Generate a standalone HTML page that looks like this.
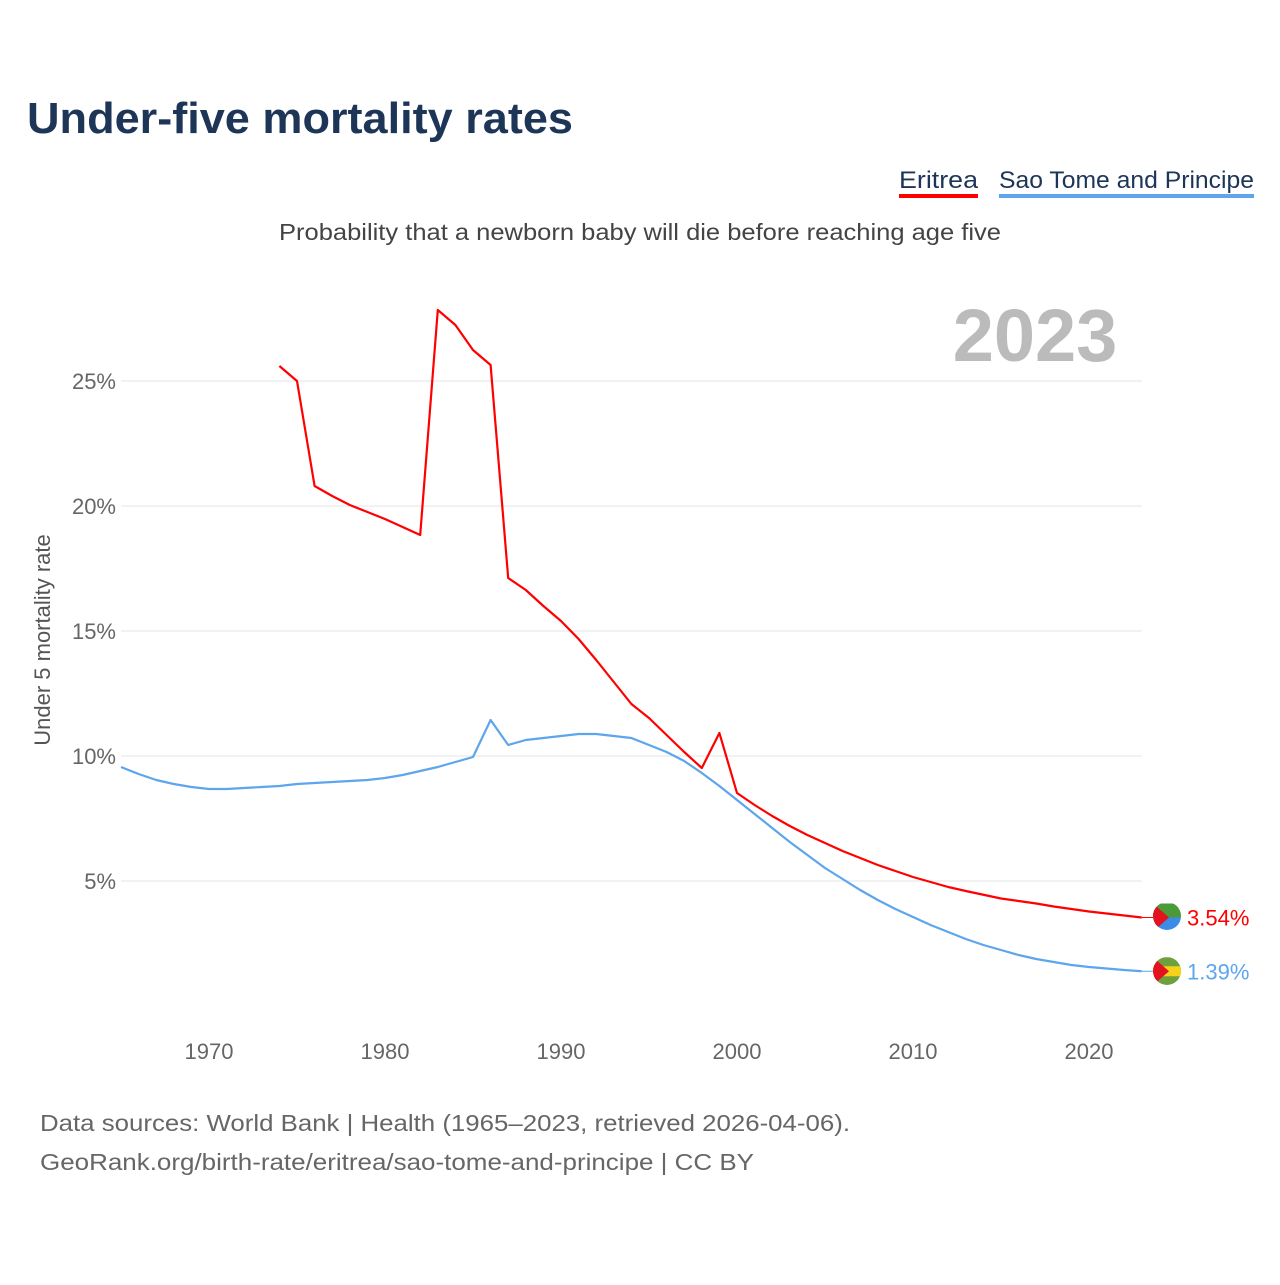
<!DOCTYPE html>
<html><head><meta charset="utf-8"><style>
body{margin:0;background:#fff;font-family:"Liberation Sans",sans-serif}
svg text{font-family:"Liberation Sans",sans-serif}
</style></head><body>
<svg id="chart" width="1280" height="1280" xmlns="http://www.w3.org/2000/svg">
<defs><clipPath id="c1"><circle cx="1167" cy="916" r="14"/></clipPath><clipPath id="c2"><circle cx="1167" cy="971" r="14"/></clipPath></defs>
<text x="27" y="133" font-size="44" font-weight="bold" fill="#1d3557" textLength="546" lengthAdjust="spacingAndGlyphs">Under-five mortality rates</text>
<g><text x="899" y="188" font-size="24" fill="#1d3557" textLength="79" lengthAdjust="spacingAndGlyphs">Eritrea</text><rect x="899" y="194" width="79" height="4" fill="#f00"/></g>
<g><text x="999" y="188" font-size="24" fill="#1d3557" textLength="255" lengthAdjust="spacingAndGlyphs">Sao Tome and Principe</text><rect x="999" y="194" width="255" height="4" fill="#5da5ec"/></g>
<text x="279" y="240" font-size="23" fill="#444" textLength="722" lengthAdjust="spacingAndGlyphs">Probability that a newborn baby will die before reaching age five</text>
<text x="1035" y="361" font-size="74" font-weight="bold" fill="#bbb" text-anchor="middle">2023</text>
<text transform="translate(50,640) rotate(-90)" font-size="22" fill="#555" text-anchor="middle">Under 5 mortality rate</text>
<g id="grid"></g><g id="xt"></g><g id="series"></g>
<text x="40" y="1131" font-size="23" fill="#666" textLength="810" lengthAdjust="spacingAndGlyphs">Data sources: World Bank | Health (1965–2023, retrieved 2026-04-06).</text>
<text x="40" y="1170" font-size="23" fill="#666" textLength="714" lengthAdjust="spacingAndGlyphs">GeoRank.org/birth-rate/eritrea/sao-tome-and-principe | CC BY</text>
</svg>
<script>
const yTicks=[5,10,15,20,25];
const xTicks=[1970,1980,1990,2000,2010,2020];
const eriYears=[];for(let y=1974;y<=2023;y++)eriYears.push(y);
const eriValues=[25.6,25.0,20.8,20.4,20.04,19.76,19.48,19.16,18.84,27.84,27.24,26.24,25.64,17.12,16.64,16.0,15.4,14.68,13.84,12.96,12.08,11.52,10.84,10.16,9.52,10.92,8.52,8.04,7.6,7.2,6.84,6.52,6.2,5.92,5.64,5.4,5.16,4.96,4.76,4.6,4.45,4.3,4.2,4.1,3.98,3.88,3.78,3.7,3.62,3.54];
const stpYears=[];for(let y=1965;y<=2023;y++)stpYears.push(y);
const stpValues=[9.56,9.28,9.04,8.88,8.76,8.68,8.68,8.72,8.76,8.8,8.88,8.92,8.96,9.0,9.04,9.12,9.24,9.4,9.56,9.76,9.96,11.44,10.44,10.64,10.72,10.8,10.88,10.88,10.8,10.72,10.44,10.16,9.8,9.32,8.8,8.24,7.68,7.12,6.56,6.04,5.52,5.08,4.64,4.24,3.88,3.56,3.24,2.96,2.68,2.44,2.24,2.04,1.88,1.76,1.64,1.56,1.5,1.44,1.39];
const X=y=>121+(y-1965)*17.6, Y=v=>1006-v*25;
const NS="http://www.w3.org/2000/svg";
function mk(t,a,p){const e=document.createElementNS(NS,t);for(const k in a)e.setAttribute(k,a[k]);p.appendChild(e);return e;}
const g=document.getElementById('grid');
yTicks.forEach(v=>{const l=mk('line',{x1:121,x2:1142,y1:Y(v),y2:Y(v),stroke:'#e6e6e6','stroke-width':1},g);


const t=mk('text',{x:116,y:Y(v)+8,'font-size':22,fill:'#666','text-anchor':'end'},g);t.textContent=v+'%';

});
const xt=document.getElementById('xt');
xTicks.forEach(v=>{const t=mk('text',{x:X(v),y:1059,'font-size':22,fill:'#666','text-anchor':'middle'},xt);t.textContent=v;

});
const s=document.getElementById('series');
function line(ys,vs,c,name,lbl,fl,clip){
const p=mk('polyline',{points:ys.map((y,i)=>X(y)+','+Y(vs[i])).join(' '),fill:'none',stroke:c,'stroke-width':2.2,'stroke-linejoin':'round'},s);


const ly=Y(vs[vs.length-1]);
mk('line',{x1:1142,x2:1153,y1:ly,y2:ly,stroke:c,'stroke-width':1},s);
const f=mk('g',{'clip-path':'url(#'+clip+')'},s);


mk('rect',{x:1153,y:ly-14,width:28,height:14,fill:fl[0]},f);
mk('rect',{x:1153,y:ly,width:28,height:14,fill:fl[1]},f);
if(fl[2])mk('rect',{x:1153,y:ly-5,width:28,height:10,fill:fl[2]},f);
mk('path',{d:`M1153 ${ly-14} L1169 ${ly} L1153 ${ly+14}Z`,fill:'#e2121f'},f);
const t=mk('text',{x:1187,y:ly+8,'font-size':22,fill:c},s);t.textContent=lbl;

}
line(stpYears,stpValues,'#5da5ec','sao-tome','1.39%',['#6ea13d','#6ea13d','#f6d21a'],'c2');
line(eriYears,eriValues,'#f00','eritrea','3.54%',['#4b9a3a','#3b8be8'],'c1');
</script>
</body></html>
